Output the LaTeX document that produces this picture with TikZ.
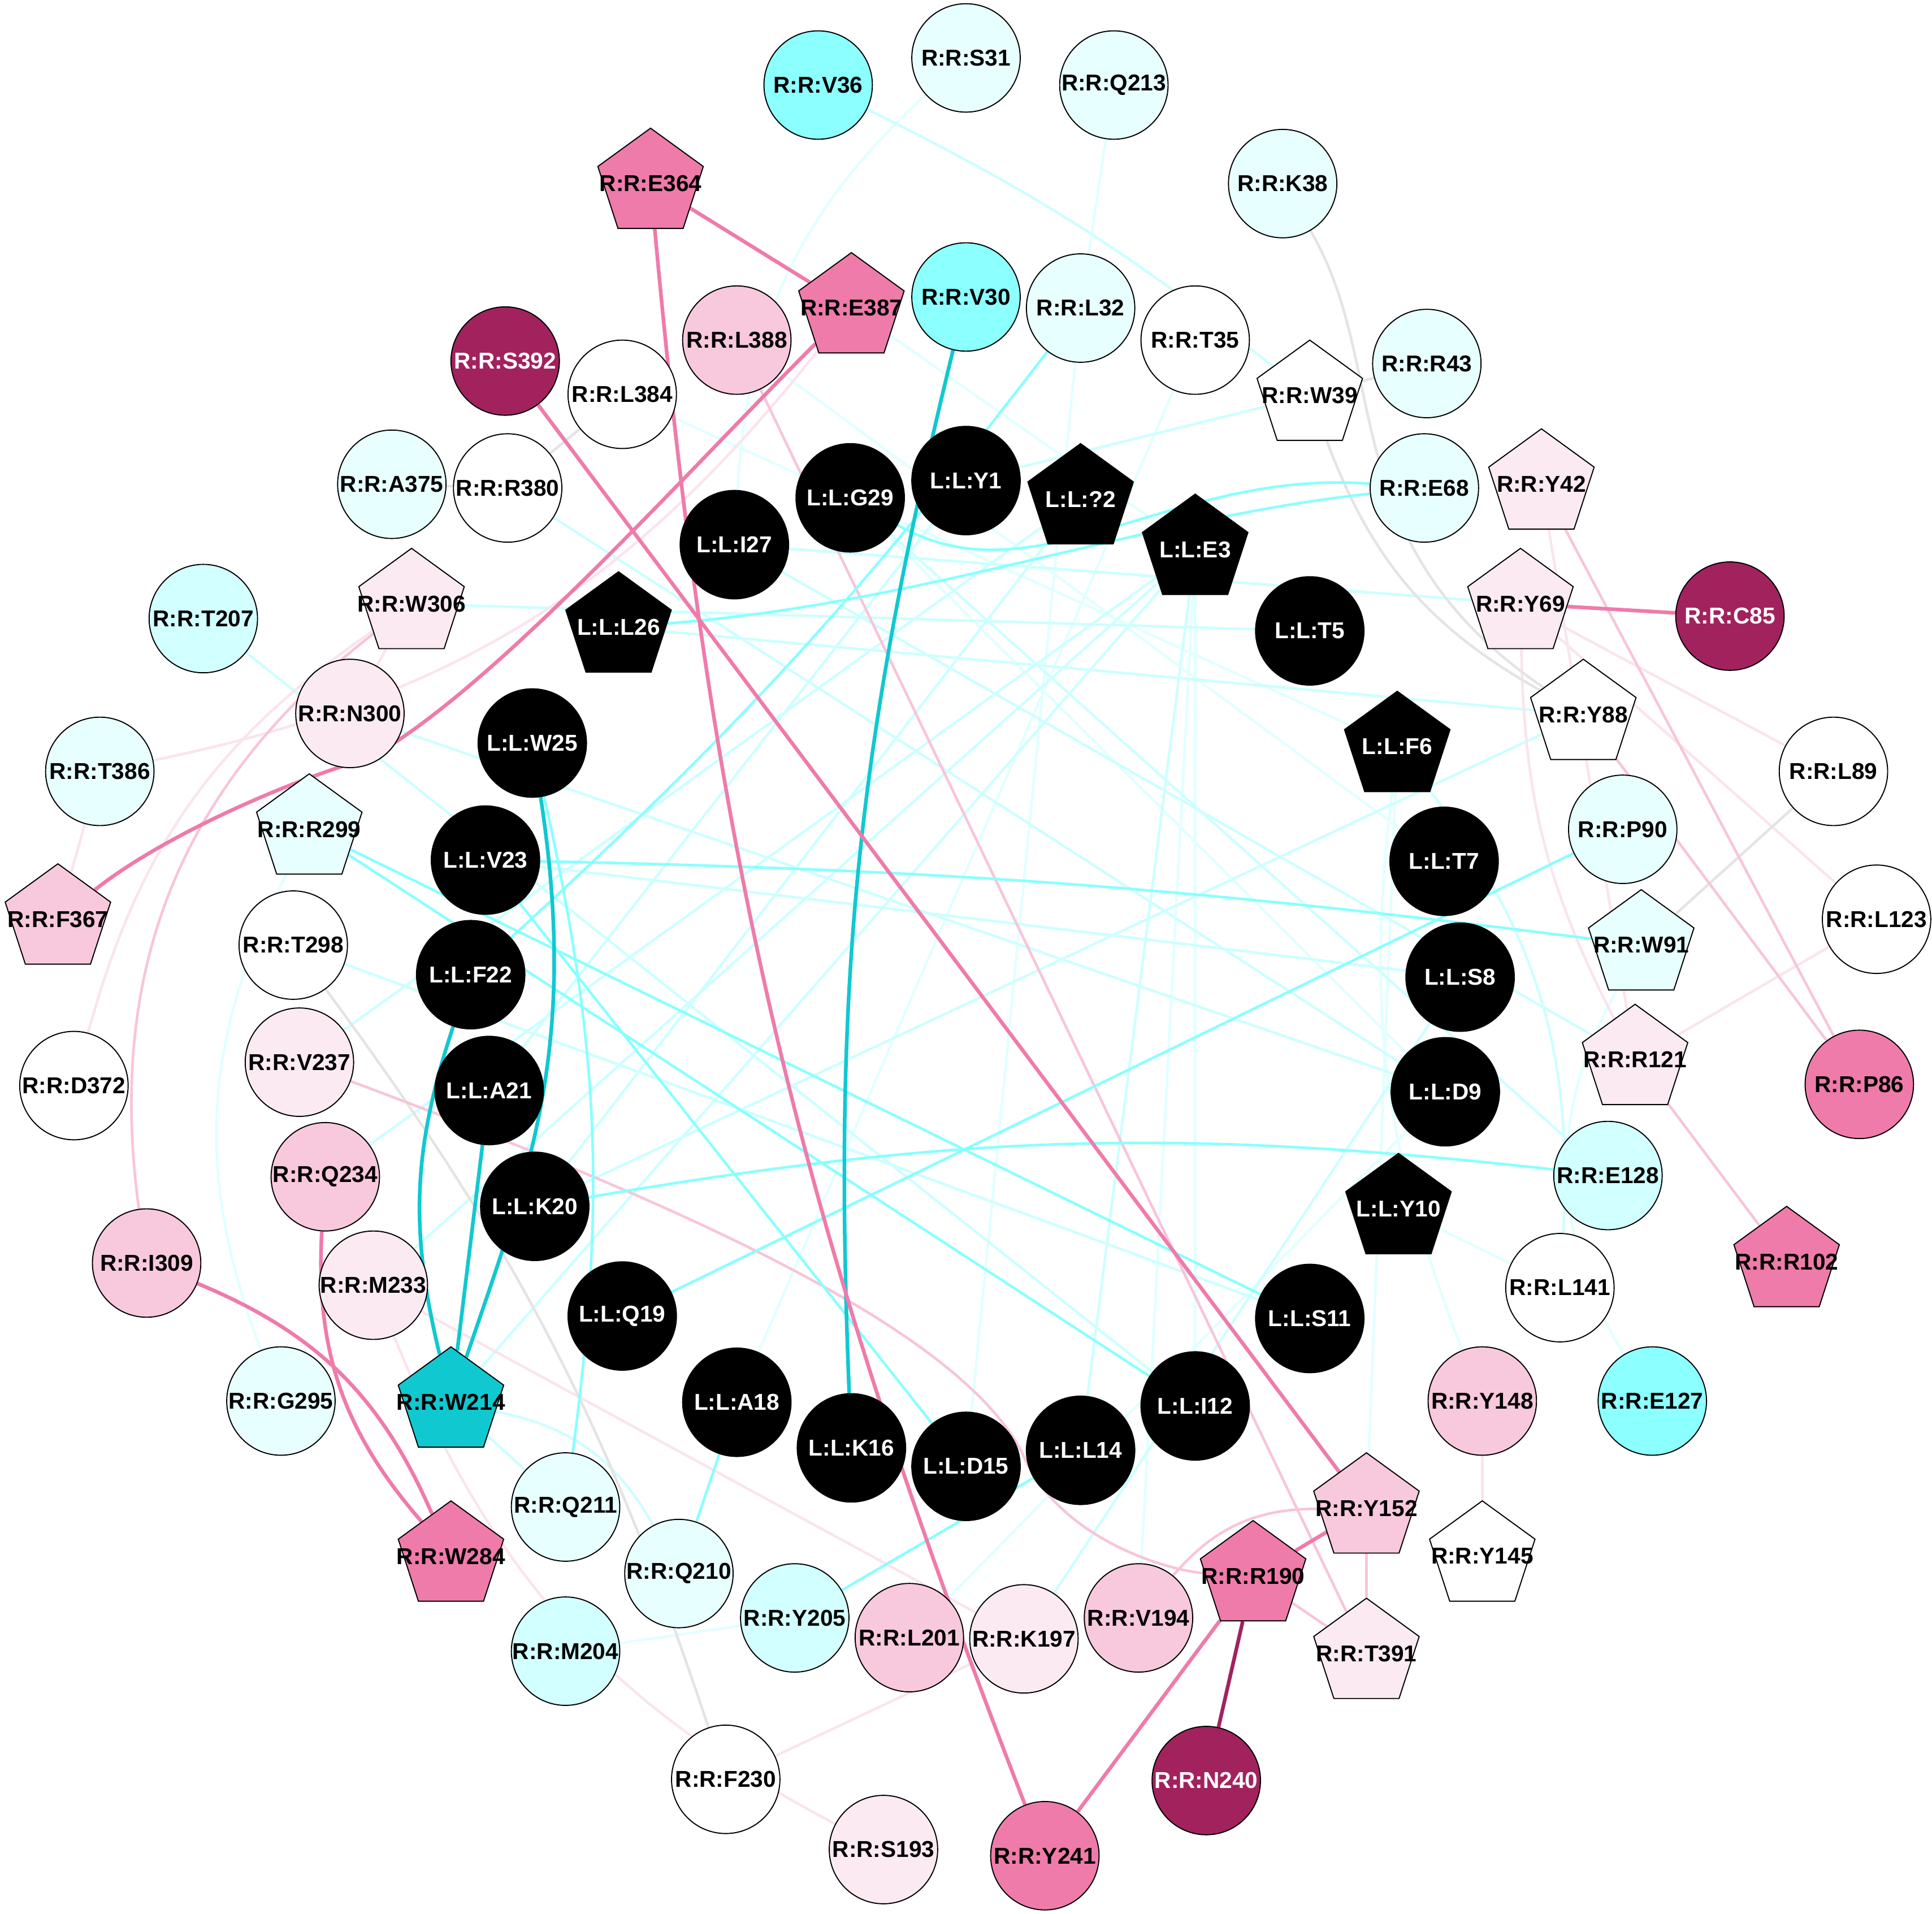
\documentclass[tikz,border=0pt]{standalone}
\usepackage{fontspec}
\setmainfont{Liberation Sans}
\usetikzlibrary{shapes.geometric,backgrounds}
\definecolor{cyanB}{RGB}{140,255,255}
\definecolor{cyanM}{RGB}{210,255,255}
\definecolor{cyanL}{RGB}{232,255,255}
\definecolor{pinkV}{RGB}{251,234,242}
\definecolor{pinkL}{RGB}{248,200,220}
\definecolor{pinkM}{RGB}{239,123,170}
\definecolor{plum}{RGB}{162,34,94}
\definecolor{tealN}{RGB}{16,200,208}
\definecolor{eB}{RGB}{136,255,255}
\definecolor{eM}{RGB}{205,255,255}
\definecolor{eL}{RGB}{226,255,255}
\definecolor{eP}{RGB}{248,196,218}
\definecolor{eV}{RGB}{250,228,238}
\definecolor{eG}{RGB}{228,228,228}
\newcommand{\resid}[1]{\makebox[0pt]{#1}}

\begin{document}
\begin{tikzpicture}[x=0.02cm, y=-0.02cm,
	every node/.style={draw, line width=0.5pt, inner sep=0pt, font=\fontsize{10.6}{12}\selectfont\bfseries},
	rc/.style={circle, minimum size=1.76cm},
	rp/.style={regular polygon, regular polygon sides=5, minimum size=1.8cm},
	lig/.style={fill=black, text=white},
	link/.style={line width=1.2pt},
	strong/.style={line width=1.7pt}]

    \useasboundingbox (0,0) rectangle (1568,1553);

    \node[rc,lig] (lY1) at (784,390) {\resid{L:L:Y1}};
    \node[rp,lig] (lX2) at (877,405) {\resid{L:L:?2}};
    \node[rp,lig] (lE3) at (970,446) {\resid{L:L:E3}};
    \node[rc,lig] (lT5) at (1063,512) {\resid{L:L:T5}};
    \node[rp,lig] (lF6) at (1134,606) {\resid{L:L:F6}};
    \node[rc,lig] (lT7) at (1172,699) {\resid{L:L:T7}};
    \node[rc,lig] (lS8) at (1185,793) {\resid{L:L:S8}};
    \node[rc,lig] (lD9) at (1173,886) {\resid{L:L:D9}};
    \node[rp,lig] (lY10) at (1135,981) {\resid{L:L:Y10}};
    \node[rc,lig] (lS11) at (1063,1070) {\resid{L:L:S11}};
    \node[rc,lig] (lI12) at (970,1141) {\resid{L:L:I12}};
    \node[rc,lig] (lL14) at (877,1177) {\resid{L:L:L14}};
    \node[rc,lig] (lD15) at (784,1190) {\resid{L:L:D15}};
    \node[rc,lig] (lK16) at (691,1175) {\resid{L:L:K16}};
    \node[rc,lig] (lA18) at (598,1138) {\resid{L:L:A18}};
    \node[rc,lig] (lQ19) at (505,1068) {\resid{L:L:Q19}};
    \node[rc,lig] (lK20) at (434,979) {\resid{L:L:K20}};
    \node[rc,lig] (lA21) at (397,885) {\resid{L:L:A21}};
    \node[rc,lig] (lF22) at (382,791) {\resid{L:L:F22}};
    \node[rc,lig] (lV23) at (394,698) {\resid{L:L:V23}};
    \node[rc,lig] (lW25) at (432,603) {\resid{L:L:W25}};
    \node[rp,lig] (lL26) at (502,509) {\resid{L:L:L26}};
    \node[rc,lig] (lI27) at (596,442) {\resid{L:L:I27}};
    \node[rc,lig] (lG29) at (690,404) {\resid{L:L:G29}};

    \node[rc,fill=cyanB] (V36) at (664,69) {\resid{R:R:V36}};
    \node[rc,fill=cyanL] (S31) at (784,47) {\resid{R:R:S31}};
    \node[rc,fill=cyanL] (Q213) at (904,69) {\resid{R:R:Q213}};
    \node[rc,fill=cyanL] (K38) at (1041,149) {\resid{R:R:K38}};
    \node[rp,fill=pinkM] (E364) at (528,149) {\resid{R:R:E364}};
    \node[rp,fill=pinkM] (E387) at (691,250) {\resid{R:R:E387}};
    \node[rc,fill=cyanB] (V30) at (784,241) {\resid{R:R:V30}};
    \node[rc,fill=cyanL] (L32) at (877,250) {\resid{R:R:L32}};
    \node[rc,fill=pinkL] (L388) at (598,276) {\resid{R:R:L388}};
    \node[rc,fill=plum,text=white] (S392) at (410,293) {\resid{R:R:S392}};
    \node[rc,fill=white] (L384) at (505,320) {\resid{R:R:L384}};
    \node[rc,fill=white] (T35) at (970,276) {\resid{R:R:T35}};
    \node[rp,fill=white] (W39) at (1063,321) {\resid{R:R:W39}};
    \node[rc,fill=cyanL] (R43) at (1158,295) {\resid{R:R:R43}};
    \node[rc,fill=cyanL] (A375) at (318,393) {\resid{R:R:A375}};
    \node[rc,fill=white] (R380) at (412,396) {\resid{R:R:R380}};
    \node[rc,fill=cyanL] (E68) at (1156,396) {\resid{R:R:E68}};
    \node[rp,fill=pinkV] (Y42) at (1251,393) {\resid{R:R:Y42}};
    \node[rc,fill=cyanM] (T207) at (165,502) {\resid{R:R:T207}};
    \node[rp,fill=pinkV] (W306) at (334,490) {\resid{R:R:W306}};
    \node[rp,fill=pinkV] (Y69) at (1234,490) {\resid{R:R:Y69}};
    \node[rc,fill=plum,text=white] (C85) at (1404,500) {\resid{R:R:C85}};
    \node[rc,fill=pinkV] (N300) at (284,579) {\resid{R:R:N300}};
    \node[rp,fill=white] (Y88) at (1285,580) {\resid{R:R:Y88}};
    \node[rc,fill=cyanL] (T386) at (81,626) {\resid{R:R:T386}};
    \node[rc,fill=white] (L89) at (1488,626) {\resid{R:R:L89}};
    \node[rp,fill=cyanL] (R299) at (251,673) {\resid{R:R:R299}};
    \node[rc,fill=cyanL] (P90) at (1317,673) {\resid{R:R:P90}};
    \node[rp,fill=pinkL] (F367) at (47,746) {\resid{R:R:F367}};
    \node[rc,fill=white] (L123) at (1523,746) {\resid{R:R:L123}};
    \node[rc,fill=white] (T298) at (238,767) {\resid{R:R:T298}};
    \node[rp,fill=cyanL] (W91) at (1332,767) {\resid{R:R:W91}};
    \node[rc,fill=pinkV] (V237) at (243,862) {\resid{R:R:V237}};
    \node[rp,fill=pinkV] (R121) at (1327,860) {\resid{R:R:R121}};
    \node[rc,fill=white] (D372) at (60,881) {\resid{R:R:D372}};
    \node[rc,fill=pinkM] (P86) at (1509,880) {\resid{R:R:P86}};
    \node[rc,fill=pinkL] (Q234) at (264,955) {\resid{R:R:Q234}};
    \node[rc,fill=cyanM] (E128) at (1305,954) {\resid{R:R:E128}};
    \node[rc,fill=pinkL] (I309) at (119,1025) {\resid{R:R:I309}};
    \node[rp,fill=pinkM] (R102) at (1450,1024) {\resid{R:R:R102}};
    \node[rc,fill=pinkV] (M233) at (303,1043) {\resid{R:R:M233}};
    \node[rc,fill=white] (L141) at (1266,1045) {\resid{R:R:L141}};
    \node[rc,fill=cyanL] (G295) at (228,1137) {\resid{R:R:G295}};
    \node[rp,fill=tealN] (W214) at (366,1138) {\resid{R:R:W214}};
    \node[rc,fill=pinkL] (Y148) at (1203,1137) {\resid{R:R:Y148}};
    \node[rc,fill=cyanB] (E127) at (1341,1137) {\resid{R:R:E127}};
    \node[rc,fill=cyanL] (Q211) at (459,1223) {\resid{R:R:Q211}};
    \node[rp,fill=pinkL] (Y152) at (1109,1224) {\resid{R:R:Y152}};
    \node[rp,fill=pinkM] (W284) at (366,1263) {\resid{R:R:W284}};
    \node[rc,fill=cyanL] (Q210) at (551,1277) {\resid{R:R:Q210}};
    \node[rp,fill=pinkM] (R190) at (1017,1279) {\resid{R:R:R190}};
    \node[rp,fill=white] (Y145) at (1203,1263) {\resid{R:R:Y145}};
    \node[rc,fill=cyanM] (Y205) at (645,1313) {\resid{R:R:Y205}};
    \node[rc,fill=pinkL] (L201) at (738,1329) {\resid{R:R:L201}};
    \node[rc,fill=pinkV] (K197) at (831,1330) {\resid{R:R:K197}};
    \node[rc,fill=pinkL] (V194) at (924,1313) {\resid{R:R:V194}};
    \node[rp,fill=pinkV] (T391) at (1109,1342) {\resid{R:R:T391}};
    \node[rc,fill=cyanM] (M204) at (459,1340) {\resid{R:R:M204}};
    \node[rc,fill=plum,text=white] (N240) at (979,1445) {\resid{R:R:N240}};
    \node[rc,fill=white] (F230) at (589,1444) {\resid{R:R:F230}};
    \node[rc,fill=pinkV] (S193) at (717,1501) {\resid{R:R:S193}};
    \node[rc,fill=pinkM] (Y241) at (848,1506) {\resid{R:R:Y241}};

    \begin{pgfonlayer}{background}
    \fill[white] (0,0) rectangle (1568,1553);

    \draw[link,eL] (S31) to[bend right=22] (lI27);
    \draw[link,eL] (Q213) -- (L32);
    \draw[link,eL] (L32) -- (lD15);
    \draw[link,eL] (T35) -- (lA18);
    \draw[link,eL] (L384) -- (lF6);
    \draw[link,eL] (L388) -- (lT7);
    \draw[link,eL] (lF6) to[bend right=14] (Y148);
    \draw[link,eL] (lF6) -- (Y152);
    \draw[link,eL] (lE3) -- (V194);
    \draw[link,eL] (lE3) -- (lI12);
    \draw[link,eL] (lY10) -- (L141);
    \draw[link,eL] (L201) -- (lD9);
    \draw[link,eL] (W91) to[bend right=30] (E127);
    \draw[link,eL] (R299) to[bend right=24] (G295);
    \draw[link,eL] (M204) -- (Y205);
    \draw[link,eL] (E387) -- (lE3);
    \draw[link,eL] (lG29) -- (lD9);

    \draw[link,eM] (V36) to[bend left=6] (W39);
    \draw[link,eM] (W39) -- (lY1);
    \draw[link,eM] (lI27) -- (Y69);
    \draw[link,eM] (W306) -- (lT5);
    \draw[link,eM] (lL26) -- (Y88);
    \draw[link,eM] (R380) -- (lD9);
    \draw[link,eM] (T298) -- (lS11);
    \draw[link,eM] (lV23) -- (lS8);
    \draw[link,eM] (lI27) -- (R121);
    \draw[link,eM] (lG29) -- (E128);
    \draw[link,eM] (lF6) to[bend left=20] (L141);
    \draw[link,eM] (lE3) -- (lL14);
    \draw[link,eM] (K197) -- (lS8);
    \draw[link,eM] (lY1) -- (lA21);
    \draw[link,eM] (lX2) -- (lK20);
    \draw[link,eM] (Y88) -- (lK20);
    \draw[link,eM] (Q234) -- (lE3);
    \draw[link,eM] (M233) -- (lE3);
    \draw[link,eM] (V237) -- (lX2);
    \draw[link,eM] (N300) -- (lD9);
    \draw[link,eM] (T207) -- (lI12);
    \draw[link,eM] (W214) to[bend left=25] (Q210);
    \draw[link,eM] (W214) -- (Q211);
    \draw[link,eM] (W214) -- (lE3);

    \draw[link,eV] (W306) to[bend right=20] (D372);
    \draw[link,eV] (N300) -- (W306);
    \draw[link,eV] (T386) -- (F367);
    \draw[link,eV] (E387) to[bend left=20] (T386);
    \draw[link,eV] (M233) -- (K197);
    \draw[link,eV] (M233) to[bend right=20] (S193);
    \draw[link,eV] (K197) -- (F230);
    \draw[link,eV] (Y148) -- (Y145);
    \draw[link,eV] (Y69) -- (L89);
    \draw[link,eV] (Y69) -- (L123);
    \draw[link,eV] (Y69) to[bend right=13] (R121);
    \draw[link,eV] (Y42) -- (R121);
    \draw[link,eV] (R121) -- (L123);

    \draw[link,eG] (K38) .. controls (1130,300) and (1080,440) .. (Y88);
    \draw[link,eG] (W39) to[bend right=20] (Y88);
    \draw[link,eG] (W39) -- (R43);
    \draw[link,eG] (L384) -- (R380);
    \draw[link,eG] (A375) -- (R380);
    \draw[link,eG] (L89) -- (W91);
    \draw[link,eG] (T298) to[bend left=9] (F230);

    \draw[link,eP] (Y42) -- (P86);
    \draw[link,eP] (Y88) -- (P86);
    \draw[link,eP] (R121) -- (R102);
    \draw[link,eP] (Y152) -- (T391);
    \draw[link,eP] (V194) to[bend left=25] (Y152);
    \draw[link,eP] (V237) .. controls (560,980) and (780,1080) .. (830,1180) .. controls (860,1250) and (950,1275) .. (R190);
    \draw[link,eP] (L388) -- (T391);
    \draw[link,eP] (W306) to[bend right=30] (I309);
    \draw[link,eP] (R190) -- (T391);

    \draw[link,eB] (lG29) .. controls (840,490) and (950,380) .. (E68);
    \draw[link,eB] (lL26) .. controls (750,490) and (930,420) .. (E68);
    \draw[link,eB] (L32) to[bend left=5] (lF22);
    \draw[link,eB] (R299) -- (lS11);
    \draw[link,eB] (R299) -- (lI12);
    \draw[link,eB] (lV23) -- (lD15);
    \draw[link,eB] (lW25) to[bend left=10] (Q211);
    \draw[link,eB] (lK20) to[bend left=8] (E128);
    \draw[link,eB] (lQ19) -- (P90);
    \draw[link,eB] (lV23) to[bend left=3] (W91);
    \draw[link,eB] (lL14) -- (Y205);
    \draw[link,eB] (lA18) -- (Q210);

    \draw[strong,tealN] (V30) to[bend right=8] (lK16);
    \draw[strong,tealN] (lW25) .. controls (470,850) and (430,950) .. (W214);
    \draw[strong,tealN] (lF22) to[bend right=16] (W214);
    \draw[strong,tealN] (lA21) -- (W214);

    \draw[strong,pinkM] (E364) -- (E387);
    \draw[strong,pinkM] (E364) to[bend right=8] (Y241);
    \draw[strong,pinkM] (E387) .. controls (560,380) and (400,560) .. (300,615) .. controls (230,635) and (130,680) .. (F367);
    \draw[strong,pinkM] (S392) -- (Y152);
    \draw[strong,pinkM] (Y69) -- (C85);
    \draw[strong,pinkM] (R190) -- (Y241);
    \draw[strong,pinkM] (R190) -- (Y152);
    \draw[strong,pinkM] (I309) to[bend left=22] (W284);
    \draw[strong,pinkM] (Q234) to[bend right=22] (W284);
    \draw[strong,plum] (R190) -- (N240);
    \end{pgfonlayer}
\end{tikzpicture}
\end{document}
